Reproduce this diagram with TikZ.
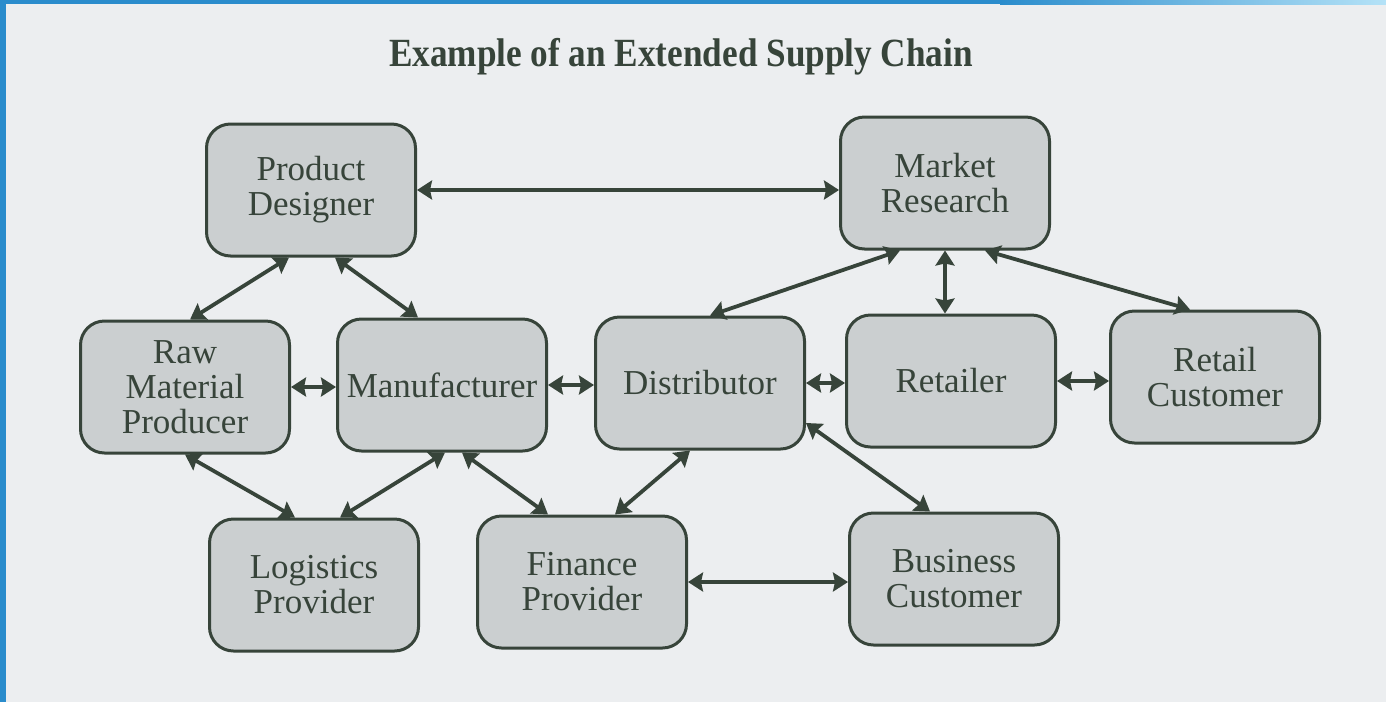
\documentclass[tikz,border=0pt]{standalone}
\usepackage{fontspec}
\setmainfont{Liberation Serif}
\usetikzlibrary{arrows.meta}

\definecolor{pagebg}{HTML}{ECEEF0}
\definecolor{boxfill}{HTML}{CBCFD0}
\definecolor{ink}{HTML}{37443A}
\definecolor{frameblue}{HTML}{2A8CCC}
\definecolor{frameblueL}{HTML}{B4E2F7}

\tikzset{
  actor/.style={draw=ink,line width=3pt,fill=boxfill,rounded corners=24pt,
    minimum width=209pt,minimum height=132pt,inner sep=2pt,align=center,
    text=ink,font=\fontsize{35}{35}\selectfont},
  link/.style={draw=ink,line width=3.8pt,
    {Stealth[length=15pt,width=19pt,inset=2pt]}-{Stealth[length=15pt,width=19pt,inset=2pt]}}
}

\begin{document}
\begin{tikzpicture}[x=1pt,y=-1pt]
  % page and frame
  \useasboundingbox (0,0) rectangle (1386,702);
  \fill[pagebg] (0,0) rectangle (1386,702);
  \fill[frameblue] (0,0) rectangle (6,702);
  \fill[frameblue] (0,0) rectangle (1000,4);
  \shade[left color=frameblue,right color=frameblueL] (1000,0) rectangle (1386,4);

  \node[text=ink,font=\addfontfeatures{FakeStretch=0.88}\bfseries\fontsize{40}{40}\selectfont] (Titulo) at (681,57) {Example of an Extended Supply Chain};

  % top row
  \node[actor] (Designer) at (311,190) {Product\\Designer};
  \node[actor] (Research) at (945,183) {Market\\Research};

  % middle row
  \node[actor] (RawMat) at (185,387) {Raw\\Material\\Producer};
  \node[actor] (Maker) at (442,385) {Manufacturer};
  \node[actor] (Distrib) at (700,383) {Distributor};
  \node[actor] (Retailer) at (951,381) {Retailer};
  \node[actor] (RetailCust) at (1215,377) {Retail\\Customer};

  % bottom row
  \node[actor] (Logistics) at (314,585) {Logistics\\Provider};
  \node[actor] (Finance) at (582,582) {Finance\\Provider};
  \node[actor] (BizCust) at (954,579) {Business\\Customer};

  % links
  \draw[link] (Designer.east) to (Designer.east -| Research.west);
  \draw[link] ([xshift=-22pt]Designer.south) to ([xshift=5pt]RawMat.north);
  \draw[link] ([xshift=24pt]Designer.south) to ([xshift=-24pt]Maker.north);
  \draw[link] (RawMat.east) to (RawMat.east -| Maker.west);
  \draw[link] (Maker.east) to (Maker.east -| Distrib.west);
  \draw[link] (Distrib.east) to (Distrib.east -| Retailer.west);
  \draw[link] (Retailer.east) to (Retailer.east -| RetailCust.west);
  \draw[link] ([xshift=-45pt]Research.south) to ([xshift=10pt]Distrib.north);
  \draw[link] (Research.south) to (Research.south |- Retailer.north);
  \draw[link] ([xshift=40pt]Research.south) to ([xshift=-25pt]RetailCust.north);
  \draw[link] (RawMat.south) to ([xshift=-19pt]Logistics.north);
  \draw[link] ([xshift=26pt]Logistics.north) to ([xshift=3pt]Maker.south);
  \draw[link] ([xshift=20pt]Maker.south) to ([xshift=-34pt]Finance.north);
  \draw[link] ([xshift=33pt]Finance.north) to ([xshift=-10pt]Distrib.south);
  \draw[link] ([yshift=-40pt]Distrib.east) to ([xshift=-24pt]BizCust.north);
  \draw[link] (Finance.east) to (Finance.east -| BizCust.west);

\end{tikzpicture}
\end{document}
